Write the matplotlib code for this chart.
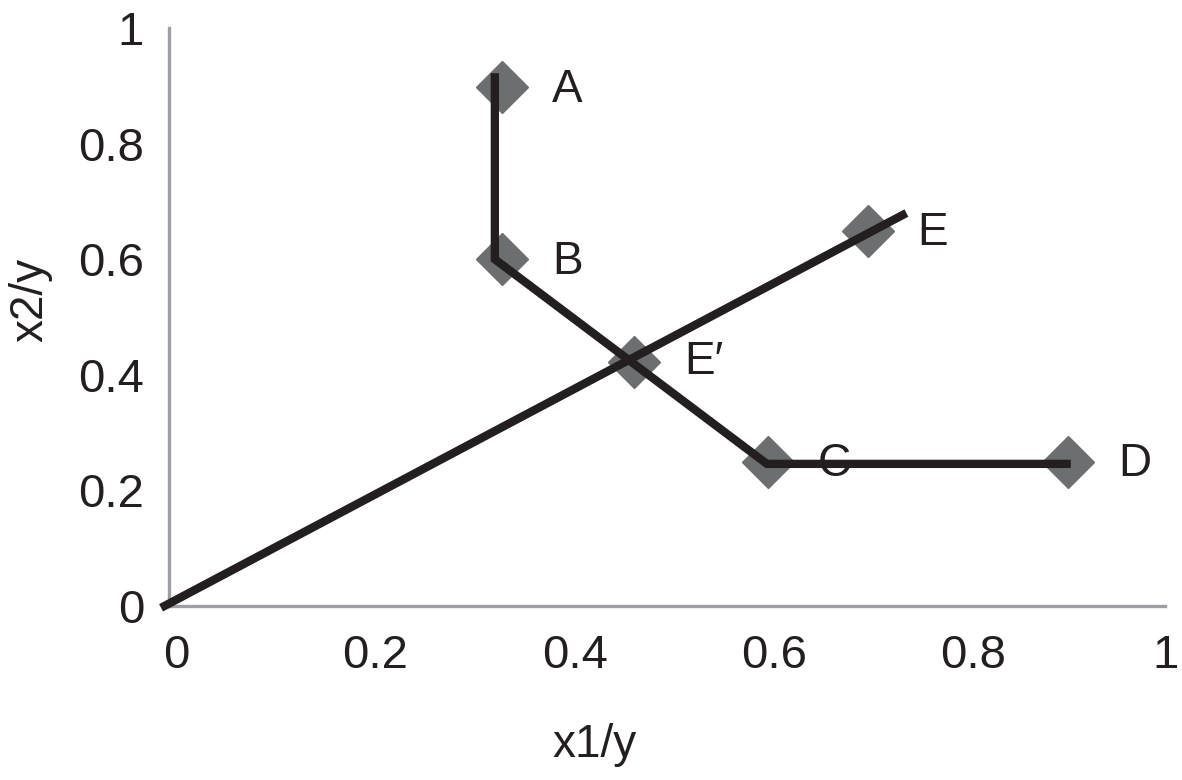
import matplotlib.pyplot as plt
from matplotlib.transforms import ScaledTranslation

plt.rcParams['font.family'] = ['Liberation Sans', 'DejaVu Sans']

# -----------------------------
# Data
# -----------------------------
point_names = ["A", "B", "E\u2032", "C", "D", "E"]
point_x = [0.334, 0.334, 0.467, 0.601, 0.902, 0.701]
point_y = [0.898, 0.600, 0.422, 0.249, 0.249, 0.649]

# label positions (data coords)
label_x = [0.400, 0.400, 0.537, 0.668, 0.969, 0.766]
label_y = [0.893, 0.595, 0.422, 0.246, 0.246, 0.645]

# isoquant line A-B-C-D
iso_x = [0.327, 0.327, 0.600, 0.905]
iso_y = [0.922, 0.600, 0.246, 0.246]

# ray from origin through E
ray_x = [-0.008, 0.740]
ray_y = [-0.003, 0.680]

ticks = [0, 0.2, 0.4, 0.6, 0.8, 1]
tick_labels = ["0", "0.2", "0.4", "0.6", "0.8", "1"]

# -----------------------------
# Plot
# -----------------------------
fig = plt.figure(figsize=(11.82, 7.8), dpi=100)
ax = fig.add_axes([0.143, 0.223, 0.843, 0.741])

ax.plot(point_x, point_y, linestyle='none', marker='D', markersize=26,
        color='#6d6e70', zorder=2, clip_on=False)
ax.plot(iso_x, iso_y, color='#231f20', linewidth=6, zorder=3,
        solid_joinstyle='miter', solid_capstyle='butt', clip_on=False)
ax.plot(ray_x, ray_y, color='#231f20', linewidth=6, zorder=3,
        solid_capstyle='butt', clip_on=False)

for name, lx, ly in zip(point_names, label_x, label_y):
    ax.text(lx, ly, name, fontsize=33, ha='center', va='center', color='#231f20')

ax.set_xlim(0, 1)
ax.set_ylim(0, 1)
ax.set_xticks(ticks)
ax.set_xticklabels(tick_labels)
ax.set_yticks(ticks)
ax.set_yticklabels(tick_labels)
ax.tick_params(axis='both', length=0, labelsize=34, colors='#231f20')
ax.tick_params(axis='x', pad=20)
ax.tick_params(axis='y', pad=18)

# x tick labels sit a little right of the tick positions (except the last)
shift = ScaledTranslation(7 / 100, 0, fig.dpi_scale_trans)
for lab in ax.get_xticklabels()[:-1]:
    lab.set_transform(lab.get_transform() + shift)

for side in ['top', 'right']:
    ax.spines[side].set_visible(False)
for side in ['left', 'bottom']:
    ax.spines[side].set_color('#9d9fa2')
    ax.spines[side].set_linewidth(2.4)

ax.set_xlabel('x1/y', fontsize=33, color='#231f20', va='center')
ax.set_ylabel('x2/y', fontsize=33, color='#231f20', va='center')
ax.xaxis.set_label_coords(0.427, -0.240)
ax.yaxis.set_label_coords(-0.139, 0.53)

fig.savefig('out.png', dpi=100)
